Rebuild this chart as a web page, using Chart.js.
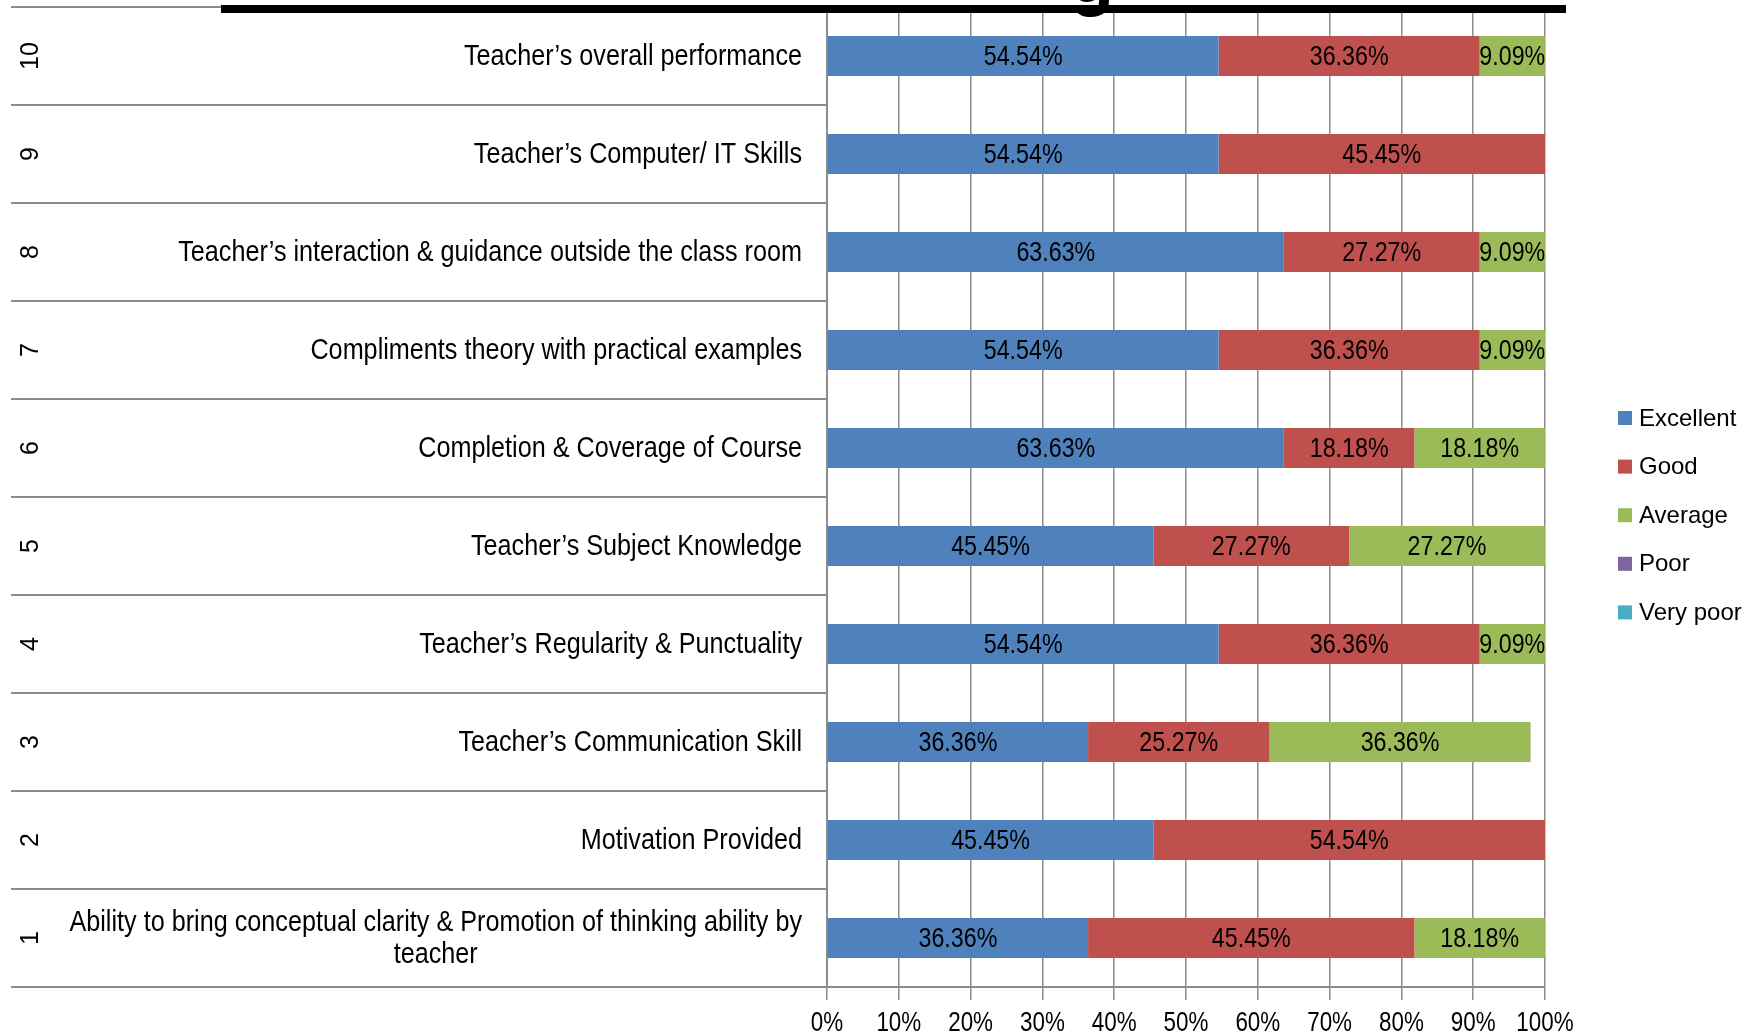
<!DOCTYPE html>
<html>
<head>
<meta charset="utf-8">
<script src="https://cdn.jsdelivr.net/npm/chart.js@4"></script>
<style>
  html, body { margin: 0; padding: 0; background: #fff; }
  #wrap { width: 1761px; height: 1034px; position: relative; }
</style>
</head>
<body>
<div id="wrap"><canvas id="myChart"></canvas></div>
<script>
// categories, bottom (1) to top (10)
const rowNumbers = ['1', '2', '3', '4', '5', '6', '7', '8', '9', '10'];
const categories = [
  ['Ability to bring conceptual clarity & Promotion of thinking ability by', 'teacher'],
  'Motivation Provided',
  'Teacher\u2019s Communication Skill',
  'Teacher\u2019s Regularity & Punctuality',
  'Teacher\u2019s Subject Knowledge',
  'Completion & Coverage of Course',
  'Compliments theory with practical examples',
  'Teacher\u2019s interaction & guidance outside the class room',
  'Teacher\u2019s Computer/ IT Skills',
  'Teacher\u2019s overall performance'
];
const excellent = [36.36, 45.45, 36.36, 54.54, 45.45, 63.63, 54.54, 63.63, 54.54, 54.54];
const good      = [45.45, 54.54, 25.27, 36.36, 27.27, 18.18, 36.36, 27.27, 45.45, 36.36];
const average   = [18.18, 0, 36.36, 9.09, 27.27, 18.18, 9.09, 9.09, 0, 9.09];
const poor      = [0, 0, 0, 0, 0, 0, 0, 0, 0, 0];
const veryPoor  = [0, 0, 0, 0, 0, 0, 0, 0, 0, 0];
const xTicks = [0, 10, 20, 30, 40, 50, 60, 70, 80, 90, 100];

const FONT = '"Liberation Sans", Arial, sans-serif';
const GRID = '#8c8c8c';

// no narrow face installed, so squeeze by hand
function narrowText(ctx, text, x, y, align, sx) {
  ctx.save();
  ctx.translate(x, y);
  ctx.scale(sx, 1);
  ctx.textAlign = align;
  ctx.fillText(text, 0, 0);
  ctx.restore();
}

// labels, numbers, values, legend and the cut-off title rule
const extras = {
  id: 'extras',
  afterDraw(chart) {
    const ctx = chart.ctx;
    const x = chart.scales.x;
    const y = chart.scales.y;
    ctx.save();
    ctx.fillStyle = '#000';
    ctx.textBaseline = 'middle';

    // category descriptions: right aligned block, lines centred inside it
    const sq = 0.84;
    ctx.font = '30px ' + FONT;
    categories.forEach((lab, i) => {
      const lines = Array.isArray(lab) ? lab : [lab];
      const w = Math.max(...lines.map(l => ctx.measureText(l).width)) * sq;
      const cx = 802 - w / 2;
      const cy = y.getPixelForValue(i) + 1;
      lines.forEach((l, k) => {
        narrowText(ctx, l, cx, cy + (k - (lines.length - 1) / 2) * 32, 'center', sq);
      });
    });

    // rotated row numbers
    ctx.font = '25px ' + FONT;
    rowNumbers.forEach((n, i) => {
      ctx.save();
      ctx.translate(31, y.getPixelForValue(i));
      ctx.rotate(-Math.PI / 2);
      ctx.textAlign = 'center';
      ctx.fillText(n, 0, 0);
      ctx.restore();
    });

    // x tick labels
    ctx.font = '28px ' + FONT;
    xTicks.forEach(v => narrowText(ctx, v + '%', x.getPixelForValue(v), 1023, 'center', 0.8));

    // value labels centred in each segment
    chart.data.datasets.forEach((ds, di) => {
      const meta = chart.getDatasetMeta(di);
      meta.data.forEach((bar, i) => {
        const v = ds.data[i];
        if (!v) return;
        narrowText(ctx, v.toFixed(2) + '%', (bar.x + bar.base) / 2, bar.y + 1, 'center', 0.83);
      });
    });

    // legend
    ctx.font = '24px ' + FONT;
    ctx.textAlign = 'left';
    chart.data.datasets.forEach((ds, di) => {
      const ly = 418 + di * 48.6;
      ctx.fillStyle = ds.backgroundColor;
      ctx.fillRect(1618, ly - 7, 14, 14);
      ctx.fillStyle = '#000';
      ctx.fillText(ds.label, 1639, ly + 1);
    });

    // title rule cut at the top edge
    ctx.fillRect(221, 5, 1345, 8);
    ctx.font = 'bold 72px ' + FONT;
    ctx.textBaseline = 'alphabetic';
    ctx.textAlign = 'center';
    ctx.fillText('g', 1092, 2);

    ctx.restore();
  }
};

const ctx = document.getElementById('myChart').getContext('2d');
new Chart(ctx, {
  type: 'bar',
  data: {
    labels: categories,
    datasets: [
      { label: 'Excellent', data: excellent, backgroundColor: '#4F81BD' },
      { label: 'Good', data: good, backgroundColor: '#C0504D' },
      { label: 'Average', data: average, backgroundColor: '#9BBB59' },
      { label: 'Poor', data: poor, backgroundColor: '#8064A2' },
      { label: 'Very poor', data: veryPoor, backgroundColor: '#4BACC6' }
    ]
  },
  options: {
    indexAxis: 'y',
    responsive: true,
    maintainAspectRatio: false,
    animation: false,
    categoryPercentage: 0.41,
    barPercentage: 1.0,
    layout: { padding: { left: 11, right: 216, top: 7, bottom: 34 } },
    plugins: { legend: { display: false }, tooltip: { enabled: false } },
    scales: {
      x: {
        stacked: true,
        min: 0,
        max: 100,
        afterBuildTicks: s => { s.ticks = xTicks.map(v => ({ value: v })); },
        ticks: { display: false },
        grid: { color: GRID, lineWidth: 1.5, tickLength: 13 },
        border: { color: GRID, width: 2 }
      },
      y: {
        stacked: true,
        reverse: true,
        ticks: { display: false },
        grid: {
          offset: true,
          drawOnChartArea: false,
          drawTicks: true,
          tickLength: 816,
          color: GRID,
          lineWidth: 2
        },
        border: { color: GRID, width: 2 }
      }
    }
  },
  plugins: [extras]
});
</script>
</body>
</html>
